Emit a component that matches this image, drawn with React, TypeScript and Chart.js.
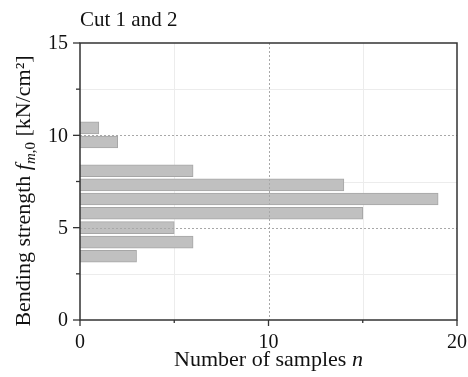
import React, { useEffect, useRef } from "react";
import { Chart, registerables } from "chart.js";

Chart.register(...registerables);

const binCenters = [3.45, 4.22, 5.0, 5.78, 6.55, 7.32, 8.08, 9.64, 10.4];
const counts = [3, 6, 5, 15, 19, 14, 6, 2, 1];
const xMajorTicks = [0, 10, 20];
const xMinorTicks = [5, 15];
const yMajorTicks = [0, 5, 10, 15];
const yMinorTicks = [2.5, 7.5, 12.5];
const titleText = "Cut 1 and 2";

const SERIF = '"Liberation Serif", "DejaVu Serif", serif';

const decorPlugin = {
  id: "decor",
  beforeDatasetsDraw(chart: any) {
    const ctx = chart.ctx as CanvasRenderingContext2D;
    const xs = chart.scales.x;
    const ys = chart.scales.y;
    const { left, right, top, bottom } = chart.chartArea;
    ctx.save();
    ctx.strokeStyle = "#ececec";
    ctx.lineWidth = 1;
    for (const v of xMinorTicks) {
      const p = Math.round(xs.getPixelForValue(v)) + 0.5;
      ctx.beginPath(); ctx.moveTo(p, top); ctx.lineTo(p, bottom); ctx.stroke();
    }
    for (const v of yMinorTicks) {
      const p = Math.round(ys.getPixelForValue(v)) + 0.5;
      ctx.beginPath(); ctx.moveTo(left, p); ctx.lineTo(right, p); ctx.stroke();
    }
    ctx.restore();
  },
  afterDatasetsDraw(chart: any) {
    const ctx = chart.ctx as CanvasRenderingContext2D;
    const xs = chart.scales.x;
    const ys = chart.scales.y;
    const { left, right, top, bottom } = chart.chartArea;
    ctx.save();
    // major grid dashed
    ctx.strokeStyle = "#a8a8a8";
    ctx.lineWidth = 1;
    ctx.setLineDash([2, 2]);
    for (const v of xMajorTicks.slice(1, -1)) {
      const p = Math.round(xs.getPixelForValue(v)) + 0.5;
      ctx.beginPath(); ctx.moveTo(p, top); ctx.lineTo(p, bottom); ctx.stroke();
    }
    for (const v of yMajorTicks.slice(1, -1)) {
      const p = Math.round(ys.getPixelForValue(v)) + 0.5;
      ctx.beginPath(); ctx.moveTo(left, p); ctx.lineTo(right, p); ctx.stroke();
    }
    ctx.setLineDash([]);
    // frame
    ctx.strokeStyle = "#333";
    ctx.lineWidth = 1.5;
    ctx.strokeRect(left, top, right - left, bottom - top);
    // ticks
    ctx.lineWidth = 1.3;
    for (const v of xMajorTicks) {
      const p = xs.getPixelForValue(v);
      ctx.beginPath(); ctx.moveTo(p, bottom); ctx.lineTo(p, bottom + 6); ctx.stroke();
    }
    for (const v of xMinorTicks) {
      const p = xs.getPixelForValue(v);
      ctx.beginPath(); ctx.moveTo(p, bottom); ctx.lineTo(p, bottom + 3); ctx.stroke();
    }
    for (const v of yMajorTicks) {
      const p = ys.getPixelForValue(v);
      ctx.beginPath(); ctx.moveTo(left, p); ctx.lineTo(left - 7, p); ctx.stroke();
    }
    for (const v of yMinorTicks) {
      const p = ys.getPixelForValue(v);
      ctx.beginPath(); ctx.moveTo(left, p); ctx.lineTo(left - 4, p); ctx.stroke();
    }
    // tick labels
    ctx.fillStyle = "#111";
    ctx.font = `20px ${SERIF}`;
    ctx.textAlign = "center";
    ctx.textBaseline = "middle";
    for (const v of xMajorTicks) {
      ctx.fillText(String(v), xs.getPixelForValue(v), bottom + 23);
    }
    ctx.textAlign = "right";
    for (const v of yMajorTicks) {
      ctx.fillText(String(v), left - 12, ys.getPixelForValue(v) + 1);
    }
    // title
    ctx.font = `21px ${SERIF}`;
    ctx.textAlign = "left";
    ctx.fillText(titleText, left, 20);
    // x axis title
    const xa = "Number of samples ";
    ctx.font = `22px ${SERIF}`;
    const w1 = ctx.measureText(xa).width;
    ctx.font = `italic 22px ${SERIF}`;
    const w2 = ctx.measureText("n").width;
    const sx = (left + right) / 2 - (w1 + w2) / 2;
    ctx.font = `22px ${SERIF}`;
    ctx.fillText(xa, sx, bottom + 40);
    ctx.font = `italic 22px ${SERIF}`;
    ctx.fillText("n", sx + w1, bottom + 40);
    // y axis title
    const parts: [string, string, number][] = [
      ["Bending strength ", `22px ${SERIF}`, 0],
      ["f", `italic 22px ${SERIF}`, 0],
      ["m", `italic 15px ${SERIF}`, 5],
      [",0", `15px ${SERIF}`, 5],
      [" [kN/cm²]", `22px ${SERIF}`, 0],
    ];
    let total = 0;
    const widths = parts.map(([t, f]) => { ctx.font = f; const w = ctx.measureText(t).width; total += w; return w; });
    ctx.translate(23, 191);
    ctx.rotate(-Math.PI / 2);
    ctx.textBaseline = "alphabetic";
    let cx = -total / 2;
    parts.forEach(([t, f, dy], i) => {
      ctx.font = f;
      ctx.fillText(t, cx, 7 + dy);
      cx += widths[i];
    });
    ctx.restore();
  },
};

export default function App() {
  const ref = useRef<HTMLCanvasElement | null>(null);
  useEffect(() => {
    document.body.style.margin = "0";
    const canvas = ref.current!;
    const chart = new Chart(canvas, {
      type: "bar",
      data: {
        datasets: [
          {
            data: binCenters.map((y, i) => ({ x: counts[i], y })),
            backgroundColor: "#c0c0c0",
            borderColor: "#a6a6a6",
            borderWidth: 1,
            barThickness: 12,
          } as any,
        ],
      },
      options: {
        indexAxis: "y",
        animation: false,
        responsive: false,
        maintainAspectRatio: false,
        layout: { padding: { left: 80, right: 11, top: 43, bottom: 57 } },
        plugins: { legend: { display: false }, tooltip: { enabled: false }, title: { display: false } },
        scales: {
          x: {
            type: "linear", min: 0, max: 20, offset: false,
            grid: { display: false, offset: false }, border: { display: false }, ticks: { display: false },
            afterFit: (s: any) => { s.height = 0; s.paddingLeft = 0; s.paddingRight = 0; },
          },
          y: {
            type: "linear", min: 0, max: 15, offset: false,
            grid: { display: false, offset: false }, border: { display: false }, ticks: { display: false },
            afterFit: (s: any) => { s.width = 0; s.paddingTop = 0; s.paddingBottom = 0; },
          },
        },
      } as any,
      plugins: [decorPlugin],
    });
    return () => chart.destroy();
  }, []);
  return <canvas ref={ref} width={468} height={377} style={{ display: "block", width: 468, height: 377 }} />;
}
